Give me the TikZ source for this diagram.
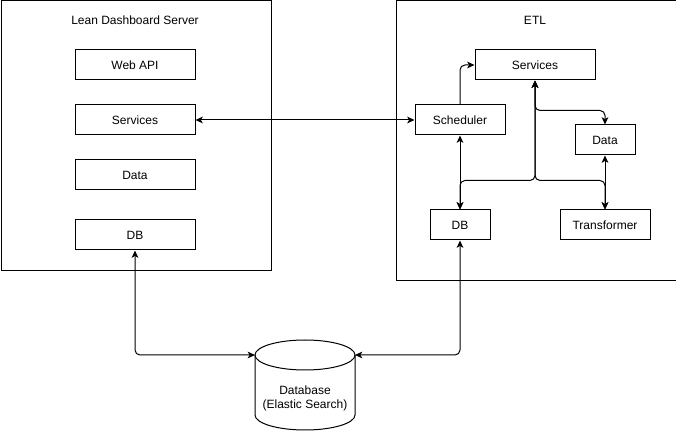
\documentclass[tikz,border=0pt]{standalone}
\usepackage{fontspec}
\setmainfont{Liberation Sans}
\usetikzlibrary{arrows.meta}
\begin{document}
\begin{tikzpicture}[x=0.75pt,y=-0.75pt,
  txt/.style={font=\fontsize{9}{10.5}\selectfont, inner sep=0pt},
  box/.style={txt, draw, line width=0.75pt, minimum height=22.5pt},
  frame/.style={draw, line width=0.75pt, inner sep=0pt, anchor=north west},
  conn/.style={line width=0.75pt, rounded corners=3.75pt},
  tip/.style={Stealth[length=5.5pt,width=5pt,inset=1.5pt]},
  both/.style={conn, {Stealth[length=5.5pt,width=5pt,inset=1.5pt]}-{Stealth[length=5.5pt,width=5pt,inset=1.5pt]}},
  one/.style={conn, -{Stealth[length=5.5pt,width=5pt,inset=1.5pt]}}]
\useasboundingbox (0,0) rectangle (676,431);
% containers
\node[frame, minimum width=202.5pt, minimum height=202pt] (lds) at (0.5,0.5) {};
\node[frame, minimum width=210pt, minimum height=209.5pt] (etl) at (395.5,0.5) {};
\node[txt] (ldsT) at (135,20) {Lean Dashboard Server};
\node[txt] (etlT) at (535,20) {ETL};
% left boxes
\node[box, minimum width=90pt] (lapi) at (135,65) {Web API};
\node[box, minimum width=90pt] (lsvc) at (135,120) {Services};
\node[box, minimum width=90pt] (ldata) at (135,175) {Data};
\node[box, minimum width=90pt] (ldb) at (135,235) {DB};
% right boxes
\node[box, minimum width=90pt] (esvc) at (535,65) {Services};
\node[box, minimum width=67.5pt] (sched) at (460,120) {Scheduler};
\node[box, minimum width=45pt] (edata) at (605,140) {Data};
\node[box, minimum width=45pt] (edb) at (460,225) {DB};
\node[box, minimum width=67.5pt] (etr) at (605,225) {Transformer};
% database cylinder
\draw[line width=0.75pt] (255,355) -- (255,415) arc[start angle=180, end angle=360, x radius=37.5pt, y radius=11.25pt] -- (355,355);
\draw[line width=0.75pt] (305,355) ellipse [x radius=37.5pt, y radius=11.25pt];
\node[txt, align=center] (es) at (305,398) {Database\\(Elastic Search)};
\coordinate (cylL) at (255,355);
\coordinate (cylR) at (355,355);
% connectors
\draw[both] (lsvc.east) -- (sched.west);
\draw[one] (sched.north) |- (esvc.west);
\draw[both] (sched.south) -- (edb.north);
\draw[both] (esvc.south) -- ++(0,30) -| (edata.north);
\draw[both] (esvc.south) -- ++(0,100) -| (edb.north);
\draw[both] (esvc.south) -- ++(0,100) -| (etr.north);
\draw[both] (edata.south) -- (etr.north);
\draw[both] (ldb.south) |- (cylL);
\draw[both] (edb.south) |- (cylR);
\end{tikzpicture}
\end{document}
